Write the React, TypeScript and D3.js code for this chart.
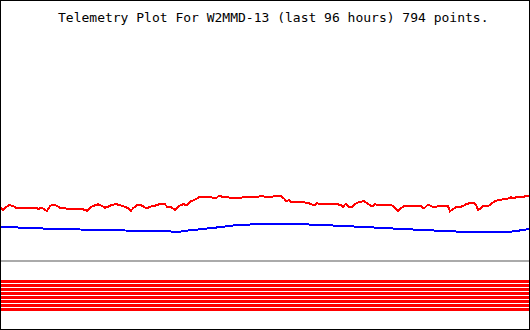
import React from "react";
import * as d3 from "d3";

const TITLE = "Telemetry Plot For W2MMD-13 (last 96 hours) 794 points.";

// hours since start of window, telemetry value (0-255)
const redHours = [0,0.54,1.09,1.63,2.35,2.9,5.43,6.52,6.88,7.61,8.15,8.51,9.06,9.6,10.32,10.87,11.41,12.14,13.95,15.03,15.76,16.3,16.85,17.75,18.48,19.02,19.56,20.29,21.19,21.74,22.64,23.18,23.73,24.09,24.82,25.18,25.72,26.63,27.17,28.08,28.8,29.89,30.25,30.79,31.7,32.42,33.15,33.87,34.42,35.14,36.05,36.95,37.86,38.4,39.31,39.67,40.21,41.12,41.48,43.83,44.38,46.91,47.28,48.0,49.09,49.81,50.54,51.08,51.44,51.8,52.35,52.71,54.7,55.06,55.43,55.61,56.33,56.88,57.42,57.78,60.86,61.04,61.77,62.13,62.67,63.22,63.58,64.12,64.66,65.39,65.93,66.48,67.2,67.38,67.92,68.29,70.82,71.0,71.55,72.09,72.63,73.18,76.26,76.8,77.52,78.07,78.61,79.34,81.15,81.51,82.05,82.6,83.14,83.86,84.41,84.95,85.86,86.22,86.58,87.12,87.49,88.03,88.57,89.3,89.84,90.38,91.11,91.65,92.02,92.56,93.1,93.46,94.01,94.91,95.27,95.82];
const redValues = [52.7,50,52.7,55,54,52.3,52.3,52.3,51,52.3,50,49,54,55.3,54.3,52.3,52.3,51.3,51.3,50.7,49.3,52.3,54,55.7,54,52.3,53.3,55.3,55.7,54.7,53.3,51.7,49.3,51.7,55,55.3,54.3,51.5,53.3,54.3,55.7,55.7,53.3,53.3,50.3,54,55.8,55,58.3,60,62.7,63.3,63.3,62.5,62.5,64.3,63.3,63.3,62.5,62.5,63.5,63.5,64.3,63.3,62.5,64.5,64.3,63.3,61.5,59,59.7,58.3,58.3,58,57,57.3,56,54.7,56.7,56.3,56.3,55.8,55,53.3,56.5,52.7,52.5,55,57.3,58.3,59,56.7,54.1,53.5,56,55,55,54.5,52,49.1,51.7,53.7,53.7,51.5,55.5,54,52.7,53.7,53.7,48.7,51,52.7,52.5,54,55.7,56.7,56.7,55,50.3,51.5,54,54.5,54.5,57.5,59.3,60,60.7,60.7,61.5,62.7,61.7,62.7,63.3,63.3,64,63.5];

const blueHours = [0,1.81,4.53,10.87,18.11,27.17,30.79,31.52,32.6,33.15,35.32,37.13,38.94,40.39,42.2,45.28,50.72,54.34,57.06,61.04,64.85,68.47,71.91,75.53,79.34,83.32,88.39,91.47,92.38,93.83,95.09,95.82];
const blueValues = [33.5,33,32,31,30,29,28.7,28,28.2,29,30.2,31.3,32.3,33.3,34.5,35.5,36.2,35.8,35.3,34.3,33.3,32.3,31.3,30.3,29.3,28.3,27.5,27.8,28.3,29.3,30.2,31.2];

// digital channel bits (all set)
const bits = [1, 1, 1, 1, 1, 1, 1, 1];

const W = 530;
const H = 330;

export default function App() {
  const x = d3.scaleLinear().domain([0, 96]).range([0, W]);
  const y = d3.scaleLinear().domain([0, 255]).range([260, 5]);
  const line = d3
    .line<[number, number]>()
    .x((d) => x(d[0]))
    .y((d) => y(d[1]));
  const redPts = redHours.map((h, i) => [h, redValues[i]] as [number, number]);
  const bluePts = blueHours.map((h, i) => [h, blueValues[i]] as [number, number]);
  const band = d3
    .scaleBand<number>()
    .domain(bits.map((_, i) => i))
    .range([280, 311])
    .paddingInner(0.25)
    .paddingOuter(0);

  return (
    <svg
      width={W}
      height={H}
      style={{ position: "absolute", left: 0, top: 0, background: "#fff" }}
    >
      <rect x={0} y={0} width={W} height={H} fill="#fff" />
      <text
        x={58}
        y={22}
        fontFamily="'DejaVu Sans Mono', monospace"
        fontSize={13}
        fill="#000"
      >
        {TITLE}
      </text>
      <path
        d={line(bluePts) || ""}
        fill="none"
        stroke="#0000ff"
        strokeWidth={2}
        shapeRendering="crispEdges"
      />
      <path
        d={line(redPts) || ""}
        fill="none"
        stroke="#ff0000"
        strokeWidth={2}
        shapeRendering="crispEdges"
      />
      <rect x={1} y={y(0)} width={W - 2} height={2} fill="#aaaaaa" />
      {bits.map((b, i) =>
        b ? (
          <rect
            key={i}
            x={1}
            y={band(i)}
            width={W - 2}
            height={band.bandwidth()}
            fill="#ff0000"
          />
        ) : null
      )}
      <rect
        x={0.5}
        y={0.5}
        width={W - 1}
        height={H - 1}
        fill="none"
        stroke="#000"
        strokeWidth={1}
      />
    </svg>
  );
}
